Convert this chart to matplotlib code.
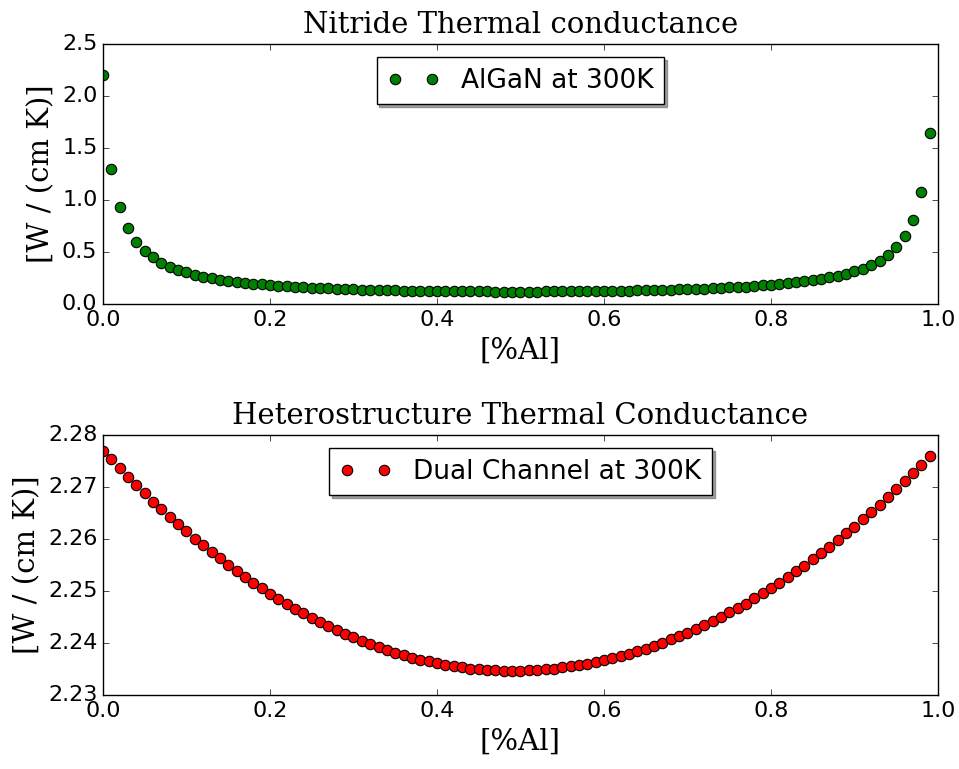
import matplotlib
matplotlib.use('Agg')
import matplotlib.pyplot as plt

# Al fraction, 0.00 .. 0.99
x_al = [i / 100 for i in range(100)]

# AlGaN thermal conductance at 300K, W/(cm K)
k_algan = [
    2.200, 1.302, 0.930, 0.727, 0.599, 0.511, 0.447, 0.398, 0.359, 0.328,
    0.303, 0.282, 0.264, 0.248, 0.235, 0.223, 0.213, 0.203, 0.195, 0.188,
    0.181, 0.175, 0.170, 0.165, 0.161, 0.157, 0.153, 0.150, 0.147, 0.144,
    0.141, 0.139, 0.136, 0.134, 0.133, 0.131, 0.129, 0.128, 0.127, 0.126,
    0.125, 0.124, 0.123, 0.122, 0.122, 0.121, 0.121, 0.120, 0.120, 0.120,
    0.120, 0.120, 0.120, 0.121, 0.121, 0.121, 0.122, 0.122, 0.123, 0.124,
    0.125, 0.126, 0.127, 0.129, 0.130, 0.132, 0.133, 0.135, 0.137, 0.140,
    0.142, 0.145, 0.148, 0.151, 0.155, 0.159, 0.163, 0.167, 0.172, 0.178,
    0.184, 0.191, 0.199, 0.207, 0.217, 0.228, 0.240, 0.255, 0.271, 0.291,
    0.314, 0.341, 0.375, 0.418, 0.473, 0.546, 0.650, 0.805, 1.080, 1.640,
]

# dual channel heterostructure thermal conductance at 300K
k_dual = [
    2.2770, 2.2753, 2.2736, 2.2719, 2.2703, 2.2688, 2.2672, 2.2658, 2.2643, 2.2629,
    2.2615, 2.2601, 2.2588, 2.2575, 2.2563, 2.2551, 2.2539, 2.2527, 2.2516, 2.2505,
    2.2495, 2.2485, 2.2475, 2.2466, 2.2457, 2.2448, 2.2440, 2.2432, 2.2425, 2.2417,
    2.2411, 2.2404, 2.2398, 2.2392, 2.2387, 2.2381, 2.2377, 2.2372, 2.2368, 2.2365,
    2.2361, 2.2358, 2.2356, 2.2353, 2.2351, 2.2350, 2.2349, 2.2348, 2.2347, 2.2347,
    2.2347, 2.2348, 2.2348, 2.2350, 2.2351, 2.2353, 2.2355, 2.2358, 2.2360, 2.2364,
    2.2367, 2.2371, 2.2375, 2.2379, 2.2384, 2.2389, 2.2395, 2.2401, 2.2407, 2.2413,
    2.2420, 2.2427, 2.2434, 2.2442, 2.2450, 2.2459, 2.2467, 2.2476, 2.2486, 2.2496,
    2.2506, 2.2516, 2.2527, 2.2538, 2.2549, 2.2561, 2.2573, 2.2585, 2.2598, 2.2611,
    2.2624, 2.2638, 2.2652, 2.2666, 2.2681, 2.2696, 2.2712, 2.2727, 2.2743, 2.2760,
]

plt.style.use('classic')
plt.rcParams['font.family'] = 'DejaVu Sans'

serif = {'family': 'DejaVu Serif', 'size': 21}

fig = plt.figure(figsize=(9.59, 7.69), dpi=100, facecolor='white')
ax1 = fig.add_axes([0.1074, 0.6047, 0.8707, 0.3381])
ax2 = fig.add_axes([0.1074, 0.0962, 0.8707, 0.3381])

ax1.plot(x_al, k_algan, 'go', markersize=7.5, markeredgewidth=0.8, label='AlGaN at 300K')
ax1.set_xlim(0, 1.0)
ax1.set_ylim(0, 2.5)
ax1.set_title('Nitride Thermal conductance', fontdict=serif, pad=8)
ax1.set_xlabel('[%Al]', fontdict=serif)
ax1.set_ylabel('[W / (cm K)]', fontdict=serif)
ax1.legend(loc='upper center', numpoints=2, shadow=True, fontsize=19)

ax2.plot(x_al, k_dual, 'ro', markersize=7.5, markeredgewidth=0.8, label='Dual Channel at 300K')
ax2.set_xlim(0, 1.0)
ax2.set_ylim(2.23, 2.28)
ax2.set_title('Heterostructure Thermal Conductance', fontdict=serif, pad=8)
ax2.set_xlabel('[%Al]', fontdict=serif)
ax2.set_ylabel('[W / (cm K)]', fontdict=serif)
ax2.legend(loc='upper center', numpoints=2, shadow=True, fontsize=19)

for ax in (ax1, ax2):
    ax.tick_params(labelsize=16)
    ax.ticklabel_format(axis='y', useOffset=False)
    ax.set_facecolor('white')

fig.savefig('out.png', dpi=100, facecolor='white')
